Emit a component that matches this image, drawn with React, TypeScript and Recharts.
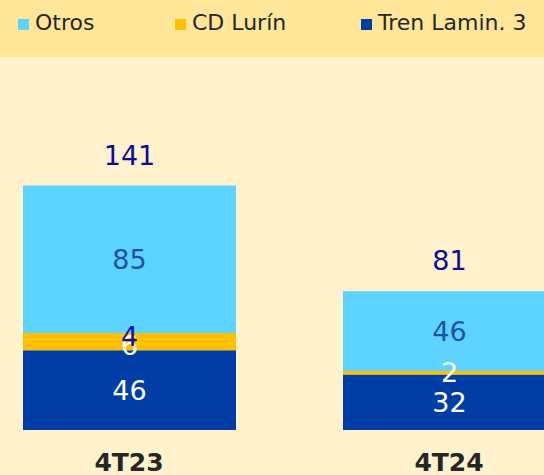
import React from "react";
import { BarChart, Bar, XAxis, YAxis, LabelList } from "recharts";

const periods = ["4T23", "4T24"];
const tren = [46, 32];
const cdLurin = [6, 2];
const cdLurinExtra = [4, null];
const otros = [85, 46];
const totals = [141, 81];

const legendItems = [
  { name: "Otros", color: "#5DD3FF", left: 18 },
  { name: "CD Lurín", color: "#FFC000", left: 175 },
  { name: "Tren Lamin. 3", color: "#003DA5", left: 361 },
];

const data = periods.map((p, i) => ({
  period: p,
  tren: tren[i],
  cdLurin: cdLurin[i],
  cdLurinExtra: cdLurinExtra[i],
  otros: otros[i],
  total: totals[i],
}));

const font = "'DejaVu Sans', sans-serif";
const hideEmpty = (v: any) => (v ? v : "");

export default function App() {
  return (
    <div
      style={{
        position: "absolute",
        left: 0,
        top: 0,
        width: 544,
        height: 475,
        overflow: "hidden",
        background: "#FFF2CC",
        fontFamily: font,
      }}
    >
      <div
        style={{
          position: "absolute",
          left: 0,
          top: 0,
          width: 544,
          height: 57,
          background: "#FFE699",
        }}
      >
        {legendItems.map((it) => (
          <div
            key={it.name}
            style={{
              position: "absolute",
              left: it.left,
              top: 10,
              display: "flex",
              alignItems: "center",
              fontSize: 22,
              color: "#262626",
              whiteSpace: "nowrap",
            }}
          >
            <span
              style={{
                display: "inline-block",
                width: 11,
                height: 11,
                background: it.color,
                marginRight: 6,
                marginTop: 3,
              }}
            />
            {it.name}
          </div>
        ))}
      </div>
      <div style={{ position: "absolute", left: -31, top: 0 }}>
        <BarChart
          width={640}
          height={475}
          data={data}
          margin={{ top: 118, right: 0, bottom: 0, left: 0 }}
          barSize={213}
        >
          <XAxis
            dataKey="period"
            height={45}
            axisLine={false}
            tickLine={false}
            tickMargin={17}
            tick={{ fill: "#262626", fontSize: 25, fontWeight: "bold", fontFamily: font }}
          />
          <YAxis hide domain={[0, 180]} />
          <Bar dataKey="tren" stackId="a" fill="#003DA5" isAnimationActive={false}>
            <LabelList
              dataKey="tren"
              position="center"
              fill="#FFFFFF"
              fontSize={27}
              fontFamily={font}
            />
          </Bar>
          <Bar dataKey="cdLurin" stackId="a" fill="#FFC000" isAnimationActive={false}>
            <LabelList
              dataKey="cdLurin"
              position="center"
              fill="#FFFFFF"
              fontSize={27}
              fontFamily={font}
            />
          </Bar>
          <Bar dataKey="cdLurinExtra" stackId="a" fill="#FFC000" isAnimationActive={false}>
            <LabelList
              dataKey="cdLurinExtra"
              position="center"
              fill="#1414A0"
              fontSize={27}
              fontFamily={font}
              formatter={hideEmpty}
            />
          </Bar>
          <Bar dataKey="otros" stackId="a" fill="#5DD3FF" isAnimationActive={false}>
            <LabelList
              dataKey="otros"
              position="center"
              fill="#1F4FAF"
              fontSize={27}
              fontFamily={font}
            />
            <LabelList
              dataKey="total"
              position="top"
              offset={21}
              fill="#0C0C99"
              fontSize={27}
              fontFamily={font}
            />
          </Bar>
        </BarChart>
      </div>
    </div>
  );
}
